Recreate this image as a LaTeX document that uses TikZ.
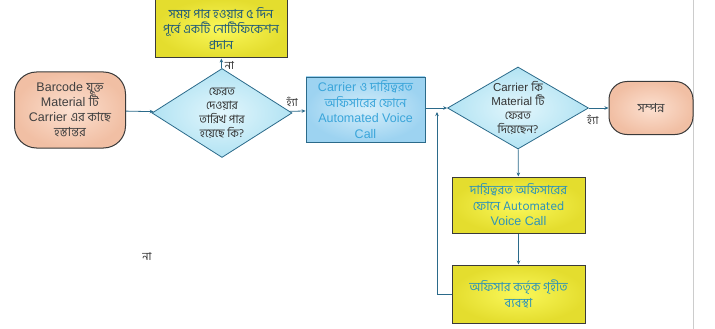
\documentclass[tikz,border=0pt]{standalone}
\usepackage{fontspec}
\setmainfont{Liberation Sans}
\newfontfamily\bn[Script=Bengali]{Hind Siliguri}
\usepackage{tikz}
\usetikzlibrary{arrows.meta,shapes.geometric}
\definecolor{linec}{HTML}{2B6A8A}
\definecolor{edgec}{HTML}{3A3A3A}
\definecolor{yelin}{HTML}{FAF85A}
\definecolor{yelout}{HTML}{E4DD2E}
\definecolor{salin}{HTML}{FCE0D0}
\definecolor{salout}{HTML}{F1BFA4}
\definecolor{cyin}{HTML}{E2F6FC}
\definecolor{cyout}{HTML}{B2E3F3}
\definecolor{bluin}{HTML}{D5EEFA}
\definecolor{bluout}{HTML}{9DD3F1}
\definecolor{blutext}{HTML}{3AA5DA}
\definecolor{teatext}{HTML}{2E93B8}
\definecolor{navtext}{HTML}{1F5A78}
\newcommand\tightlines{\lineskiplimit=-20pt\lineskip=0pt}
\tikzset{
  flow/.style={draw=linec, line width=0.8pt, -{Stealth[length=4pt,width=3.5pt]}},
  terminal/.style={draw=edgec, line width=1pt, rounded corners=22pt, inner color=salin, outer color=salout,
    align=center, text=black!75, font=\fontsize{12.5}{15}\selectfont\tightlines},
  decision/.style={diamond, draw=linec, line width=0.8pt, inner color=cyin, outer color=cyout,
    align=center, inner sep=-12pt, text=black!80, font=\fontsize{11.5}{14}\selectfont\tightlines},
  yelbox/.style={draw=edgec, line width=1pt, inner color=yelin, outer color=yelout,
    align=center, minimum width=133pt, text=teatext, font=\fontsize{12.5}{15.5}\selectfont\tightlines},
  blubox/.style={draw=linec, line width=0.8pt, inner color=bluin, outer color=bluout,
    align=center, minimum width=119pt, minimum height=65pt, text=blutext, font=\fontsize{12.5}{15.5}\selectfont\tightlines},
  lbl/.style={font=\fontsize{11}{13}\selectfont, text=black!80, inner sep=1pt}
}
\begin{document}
\begin{tikzpicture}[x=1pt,y=-1pt]
\useasboundingbox (0,0) rectangle (715,329);
\draw[black!20, line width=0.8pt] (693,0) -- (693,329);
\node[terminal, minimum width=111pt, minimum height=76pt] (start) at (70,110)
  {Barcode \bn{যুক্ত}\\Material \bn{টি}\\Carrier \bn{এর কাছে}\\\bn{হস্তান্তর}};
\node[decision, minimum width=140pt, minimum height=89pt] (due) at (222,113)
  {\bn{ফেরত}\\\bn{দেওয়ার}\\\bn{তারিখ পার}\\\bn{হয়েছে কি?}};
\node[yelbox, minimum width=132pt, minimum height=59pt, text=navtext] (notify) at (221,28.5)
  {\bn{সময় পার হওয়ার ৫ দিন}\\\bn{পূর্বে একটি নোটিফিকেশন}\\\bn{প্রদান}};
\node[blubox] (call) at (365.5,109.5)
  {Carrier \bn{ও দায়িত্বরত}\\\bn{অফিসারের ফোনে}\\Automated Voice\\Call};
\node[decision, minimum width=141pt, minimum height=82pt] (back) at (518,108)
  {Carrier \bn{কি}\\Material \bn{টি}\\\bn{ফেরত}\\\bn{দিয়েছেন?}};
\node[terminal, minimum width=84pt, minimum height=53pt, rounded corners=18pt] (done) at (651,108)
  {\bn{সম্পন্ন}};
\node[yelbox, minimum height=56pt] (officer) at (518.5,205)
  {\bn{দায়িত্বরত অফিসারের}\\\bn{ফোনে} Automated\\Voice Call};
\node[yelbox, minimum height=58pt] (action) at (518.5,294)
  {\bn{অফিসার কর্তৃক গৃহীত}\\\bn{ব্যবস্থা}};
\coordinate (join) at (437,112);
\draw[flow] (start) -- (due);
\draw[flow] (due) -- node[lbl, right=2pt, pos=0.25]{\bn{না}} (notify);
\draw[flow] (due) -- node[lbl, above=3pt, pos=0.15]{\bn{হ্যাঁ}} (call);
\draw[flow] (call.east |- back.west) -- (back.west);
\draw[flow] (back) -- node[lbl, below=6pt, pos=0.2]{\bn{হ্যাঁ}} (done);
\draw[flow] (back) -- (officer);
\draw[flow] (officer) -- (action);
\draw[flow] (action.west) -| (join);
\node[lbl] (stray) at (147,257) {\bn{না}};
\end{tikzpicture}
\end{document}
